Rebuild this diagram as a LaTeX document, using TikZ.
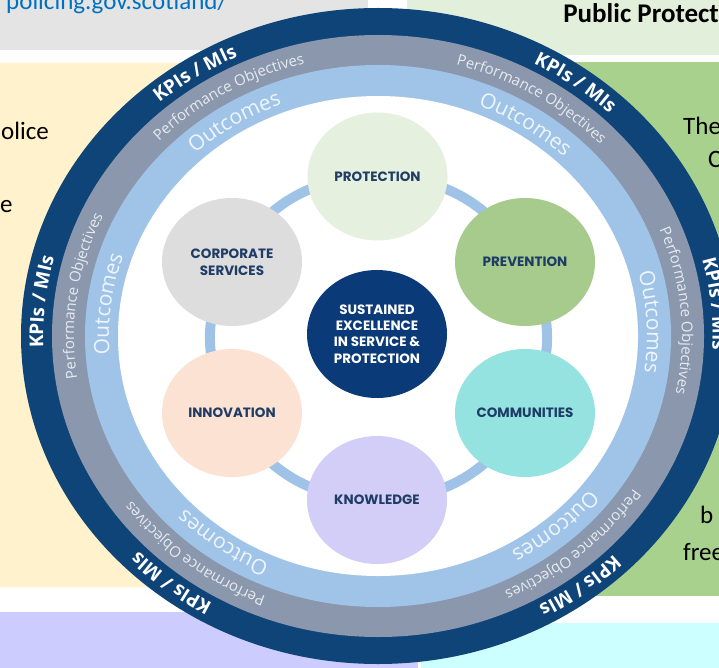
\documentclass[tikz,border=0pt]{standalone}
\usepackage{fontspec}
\setmainfont{Carlito}
\newfontfamily\ringfont{Open Sans}
\newfontfamily\labfont{Poppins}
\usetikzlibrary{decorations.text,shapes.geometric}

\definecolor{navyring}{HTML}{0F4478}
\definecolor{grayring}{HTML}{8B97AD}
\definecolor{lightring}{HTML}{A0C4E8}
\definecolor{connblue}{HTML}{9EC3E6}
\definecolor{centernavy}{HTML}{0B3A78}
\definecolor{labtext}{HTML}{1E3C66}
\definecolor{protfill}{HTML}{E6F0DE}
\definecolor{prevfill}{HTML}{A6CB8C}
\definecolor{commfill}{HTML}{94E3E1}
\definecolor{knowfill}{HTML}{D3CEF8}
\definecolor{innofill}{HTML}{FCE2D3}
\definecolor{corpfill}{HTML}{DDDDDD}
\definecolor{boxgray}{HTML}{E4E4E4}
\definecolor{boxlgreen}{HTML}{E2EFDA}
\definecolor{boxpeach}{HTML}{FFF2CC}
\definecolor{boxgreen}{HTML}{A9D18E}
\definecolor{boxlav}{HTML}{CCCCFF}
\definecolor{boxcyan}{HTML}{CCFFFF}
\definecolor{linkblue}{HTML}{0070C0}
\definecolor{potext}{HTML}{E6EBF2}
\definecolor{outtext}{HTML}{EEF5FC}

\newcommand\ringtxt[6]{%
  \pgfmathsetmacro\rsa{#1+50}\pgfmathsetmacro\rea{#1-50}%
  \path[decorate,decoration={text along path,text align=center,text color=#5,text={|#4|#6}}]
    (C) ++(\rsa:#2 and #3) arc[start angle=\rsa,end angle=\rea,x radius=#2,y radius=#3];}

\tikzset{
  circ/.style={ellipse, minimum width=140pt, minimum height=128pt, inner sep=0pt,
    align=center, text=labtext, font=\labfont\bfseries\fontsize{13.5}{17}\selectfont},
  conn/.style={line width=10pt, draw=connblue},
  bgtext/.style={inner sep=0pt, font=\fontsize{25}{30}\selectfont},
}

\begin{document}
\begin{tikzpicture}[x=1pt,y=1pt]
\useasboundingbox (0,0) rectangle (719,-668);
\clip (0,0) rectangle (719,-668);
\fill[white] (0,0) rectangle (719,-668);
% background boxes
\fill[boxgray] (0,0) rectangle (368,-50);
\fill[boxlgreen] (407,0) rectangle (719,-55);
\fill[boxpeach] (0,-63) rectangle (330,-587);
\fill[boxgreen] (430,-62) rectangle (719,-596);
\fill[boxlav] (0,-612) rectangle (418,-668);
\fill[boxcyan] (421,-623) rectangle (719,-668);
% background texts
\node[bgtext, anchor=base west, text=linkblue] (url) at (6,-10) {policing.gov.scotland/};
\node[bgtext, anchor=base east, font=\bfseries\fontsize{27}{30}\selectfont] (pp) at (719,-23) {Public Protect};
\node[bgtext, anchor=base west] (t1) at (1,-140) {olice};
\node[bgtext, anchor=base west] (t2) at (0,-213) {e};
\node[bgtext, anchor=base west] (t3) at (683,-135) {The};
\node[bgtext, anchor=base west] (t4) at (708,-168) {C};
\node[bgtext, anchor=base west] (t5) at (700,-523) {b};
\node[bgtext, anchor=base west] (t6) at (683,-560) {free};
% rings
\coordinate (C) at (378,-336);
\fill[navyring] (C) ellipse [x radius=357pt, y radius=328pt];
\fill[grayring] (C) ellipse [x radius=326pt, y radius=301pt];
\fill[lightring] (C) ellipse [x radius=293pt, y radius=271pt];
\fill[white] (C) ellipse [x radius=260pt, y radius=240pt];
% ring texts
\foreach \a in {124,53,5.6,174,231,308}{
  \ringtxt{\a}{334.7pt}{307.7pt}{\ringfont\bfseries\fontsize{19}{19}\selectfont}{white}{KPIs / MIs}}
\foreach \a in {121,58,5,172,231,312}{
  \ringtxt{\a}{304pt}{280.5pt}{\ringfont\fontsize{15}{15}\selectfont}{potext}{Performance Objectives}}
\foreach \a in {123,56,3,173,234,312}{
  \ringtxt{\a}{269pt}{248pt}{\ringfont\fontsize{21}{21}\selectfont}{outtext}{Outcomes}}
% inner hexagon
\coordinate (p1) at (377.5,-176.5);
\coordinate (p2) at (525,-262);
\coordinate (p3) at (525,-413);
\coordinate (p4) at (377,-500);
\coordinate (p5) at (232,-413);
\coordinate (p6) at (232,-262);
\draw[conn] (p1) to[bend left=30] (p2);
\draw[conn] (p2) to[bend left=30] (p3);
\draw[conn] (p3) to[bend left=30] (p4);
\draw[conn] (p4) to[bend left=30] (p5);
\draw[conn] (p5) to[bend left=30] (p6);
\draw[conn] (p6) to[bend left=30] (p1);
\node[circ, fill=protfill] (prot) at (p1) {PROTECTION};
\node[circ, fill=prevfill] (prev) at (p2) {PREVENTION};
\node[circ, fill=commfill] (comm) at (p3) {COMMUNITIES};
\node[circ, fill=knowfill] (know) at (p4) {KNOWLEDGE};
\node[circ, fill=innofill] (inno) at (p5) {INNOVATION};
\node[circ, fill=corpfill] (corp) at (p6) {CORPORATE\\SERVICES};
\node[circ, fill=centernavy, text=white, font=\labfont\bfseries\fontsize{13.5}{16.3}\selectfont] (core) at (377,-334) {SUSTAINED\\EXCELLENCE\\IN SERVICE \&\\PROTECTION};
\end{tikzpicture}
\end{document}
